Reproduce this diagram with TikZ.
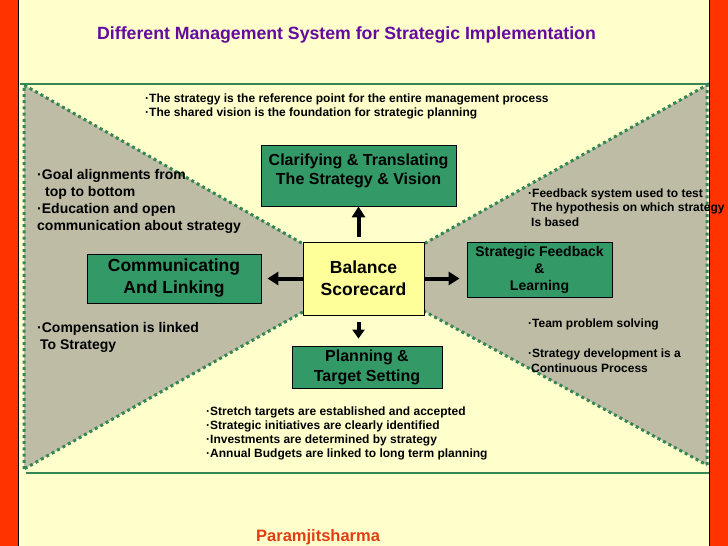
\documentclass[tikz,border=0pt]{standalone}
\usepackage{fontspec}
\setmainfont{Liberation Sans}
\usetikzlibrary{arrows.meta}
\definecolor{bg}{HTML}{FFFFCC}
\definecolor{tri}{RGB}{190,188,165}
\definecolor{boxg}{HTML}{339966}
\definecolor{lineg}{RGB}{52,135,85}
\definecolor{barred}{HTML}{FF3300}
\definecolor{titlep}{RGB}{100,10,160}
\definecolor{authr}{RGB}{225,60,20}
\definecolor{balf}{HTML}{FFFF99}
\begin{document}
\begin{tikzpicture}[x=1pt,y=-1pt,
  gbox/.style={draw=black,line width=0.8pt,fill=boxg,align=center,font=\bfseries,inner sep=0pt},
  boxtxt/.style={align=center,font=\bfseries,inner sep=0pt},
  arr/.style={line width=4pt,-{Triangle[width=13pt,length=11pt]}},
  dotline/.style={draw=lineg,line width=3pt,dash pattern=on 3pt off 3.2pt},
  solidg/.style={draw=lineg,line width=2.8pt},
  txt/.style={anchor=west,inner sep=0pt,align=left,font=\bfseries}]
\useasboundingbox (0,0) rectangle (728,546);
\fill[bg] (0,0) rectangle (728,546);
% triangles
\coordinate (apex) at (363,278);
\coordinate (lt) at (24,85);
\coordinate (lb) at (24,469);
\coordinate (rt) at (707,85);
\coordinate (rb) at (707,465);
\fill[tri] (lt) -- (apex) -- (lb) -- cycle;
\fill[tri] (rt) -- (apex) -- (rb) -- cycle;
\draw[dotline] (lb) -- (lt) -- (apex) -- (lb);
\draw[dotline] (rb) -- (rt) -- (apex) -- (rb);
% frame lines
\coordinate (ftl) at (20,84);
\coordinate (ftr) at (709,84);
\coordinate (fbl) at (26,473);
\coordinate (fbr) at (709,473);
\draw[solidg] (ftl) -- (ftr);
\draw[solidg] (fbl) -- (fbr);
% red bars
\fill[barred] (0,0) rectangle (18,546);
\fill[barred] (710,0) rectangle (728,546);
\draw[black,line width=1pt] (18,0) -- (18,546);
\draw[black,line width=1pt] (709.5,0) -- (709.5,546);
% title
\node[txt,text=titlep,font=\bfseries\fontsize{17.7}{20}\selectfont] (title) at (97,35) {Different Management System for Strategic Implementation};
% boxes
\node[gbox,minimum width=195pt,minimum height=61pt] (clar) at (358.5,175.5) {};
\node[boxtxt,font=\bfseries\fontsize{16}{19}\selectfont] (clart) at ([yshift=5pt]clar.center) {Clarifying \& Translating\\The Strategy \& Vision};
\node[gbox,fill=balf,minimum width=121pt,minimum height=73pt,font=\bfseries\fontsize{17.5}{22}\selectfont] (bal) at (363.5,278.5) {Balance\\Scorecard};
\node[gbox,minimum width=174pt,minimum height=49pt,font=\bfseries\fontsize{17.5}{22}\selectfont] (comm) at (174,278.5) {Communicating\\And Linking};
\node[gbox,minimum width=145pt,minimum height=55pt,font=\bfseries\fontsize{14}{17}\selectfont] (feed) at (539.5,269.5) {Strategic Feedback\\\&\\Learning};
\node[gbox,minimum width=150pt,minimum height=42pt,font=\bfseries\fontsize{16}{20}\selectfont] (plan) at (367,367) {Planning \&\\Target Setting};
% arrows
\draw[arr,shorten <=5pt] (bal.north -| clar.south) -- (clar.south);
\draw[arr,shorten <=7pt,shorten >=7pt,-{Triangle[width=12pt,length=9pt]}] (bal.south -| clar.south) -- (plan.north -| clar.south);
\draw[arr,shorten >=6pt] (bal.west) -- (comm.east);
\draw[arr,shorten >=7pt] (bal.east) -- (bal.east -| feed.west);
% texts
\node[txt,font=\bfseries\fontsize{12}{14}\selectfont] (ttop) at (145,106) {·The strategy is the reference point for the entire management process\\·The shared vision is the foundation for strategic planning};
\node[txt,font=\bfseries\fontsize{14}{17}\selectfont] (tleft) at (37,201.5) {·Goal alignments from\\\hspace*{8pt}top to bottom\\·Education and open\\communication about strategy};
\node[txt,font=\bfseries\fontsize{14}{17}\selectfont] (tcomp) at (37,337.5) {·Compensation is linked\\\hspace*{3pt}To Strategy};
\node[txt,font=\bfseries\fontsize{12}{14.5}\selectfont] (tfeed) at (528,207.5) {·Feedback system used to test\\\hspace*{3pt}The hypothesis on which strategy\\\hspace*{3pt}Is based};
\node[txt,font=\bfseries\fontsize{12}{14.5}\selectfont] (tteam) at (528,324) {·Team problem solving};
\node[txt,font=\bfseries\fontsize{12}{14.5}\selectfont] (tdev) at (528,360.5) {·Strategy development is a\\\hspace*{3pt}Continuous Process};
\node[txt,font=\bfseries\fontsize{12}{14}\selectfont] (tbot) at (206,433) {·Stretch targets are established and accepted\\·Strategic initiatives are clearly identified\\·Investments are determined by strategy\\·Annual Budgets are linked to long term planning};
\node[txt,text=authr,font=\bfseries\fontsize{16.5}{20}\selectfont] (auth) at (256,537) {Paramjitsharma};
\end{tikzpicture}
\end{document}
